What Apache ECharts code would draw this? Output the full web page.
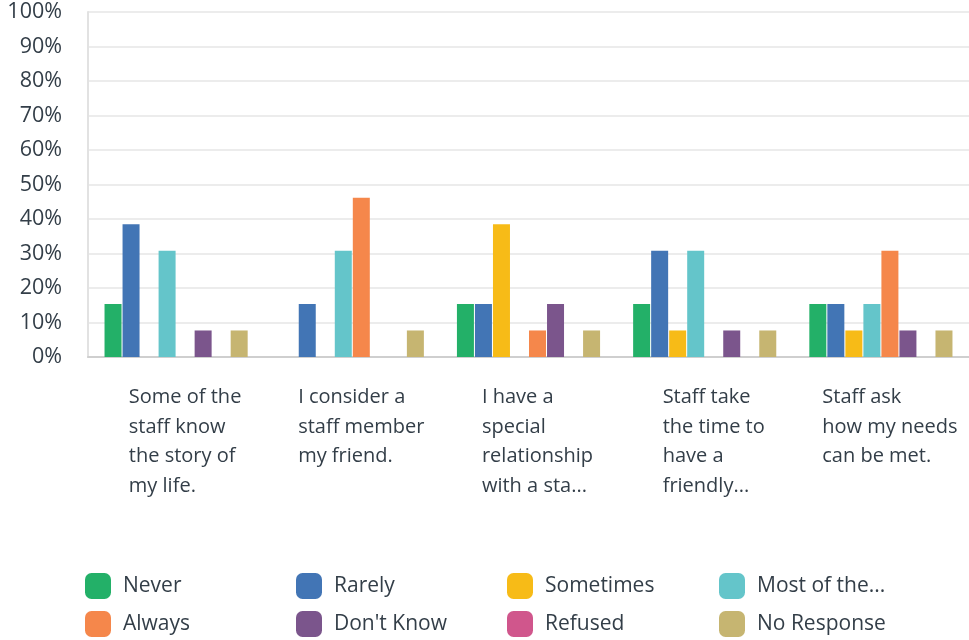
<!DOCTYPE html>
<html>
<head>
<meta charset="utf-8">
<script src="https://cdn.jsdelivr.net/npm/echarts@6/dist/echarts.min.js"></script>
<style>
html,body{margin:0;padding:0;background:#fff;}
#chart{width:969px;height:640px;}
</style>
</head>
<body>
<div id="chart"></div>
<script>
var categories = [
  "Some of the\nstaff know\nthe story of\nmy life.",
  "I consider a\nstaff member\nmy friend.",
  "I have a\nspecial\nrelationship\nwith a sta...",
  "Staff take\nthe time to\nhave a\nfriendly...",
  "Staff ask\nhow my needs\ncan be met."
];
var seriesNames = ["Never", "Rarely", "Sometimes", "Most of the...", "Always", "Don't Know", "Refused", "No Response"];
var never      = [15.38, 0,     15.38, 15.38, 15.38];
var rarely     = [38.46, 15.38, 15.38, 30.77, 15.38];
var sometimes  = [0,     0,     38.46, 7.69,  7.69];
var mostOfThe  = [30.77, 30.77, 0,     30.77, 15.38];
var always     = [0,     46.15, 7.69,  0,     30.77];
var dontKnow   = [7.69,  0,     15.38, 7.69,  7.69];
var refused    = [0,     0,     0,     0,     0];
var noResponse = [7.69,  7.69,  7.69,  7.69,  7.69];
var yTickValues = [0, 10, 20, 30, 40, 50, 60, 70, 80, 90, 100];

var colors = ["#23b068", "#4275b5", "#f7bb17", "#64c5ca", "#f5874b", "#7b558c", "#d0568c", "#c6b571"];
var allData = [never, rarely, sometimes, mostOfThe, always, dontKnow, refused, noResponse];
var textColor = "#333e48";
var fontFam = "'Open Sans', sans-serif";

var chart = echarts.init(document.getElementById('chart'), null, {renderer: 'canvas'});

var legendLefts = [85, 296, 507, 719];
var legendTops = [573, 611];
var legends = seriesNames.map(function (n, i) {
  return {
    data: [n],
    left: legendLefts[i % 4],
    top: legendTops[Math.floor(i / 4)],
    padding: 0,
    icon: 'roundRect',
    itemWidth: 26,
    itemHeight: 26,
    selectedMode: false,
    textStyle: {fontSize: 21, color: textColor, fontFamily: fontFam, padding: [0, 0, 0, 7]}
  };
});

var option = {
  animation: false,
  color: colors,
  grid: {left: 88, right: 0, top: 12, bottom: 283, containLabel: false},
  legend: legends,
  xAxis: {
    type: 'category',
    data: categories,
    axisLine: {show: true, lineStyle: {color: '#cfcfcf', width: 2}},
    axisTick: {show: false},
    splitLine: {show: false},
    axisLabel: {
      interval: 0,
      margin: 26,
      padding: [0, 0, 0, 18],
      formatter: function (v) {
        return v.split('\n').map(function (l) { return '{a|' + l + '}'; }).join('\n');
      },
      rich: {
        a: {align: 'left', fontSize: 20, lineHeight: 29.5, color: textColor, fontFamily: fontFam}
      }
    }
  },
  yAxis: {
    type: 'value',
    min: yTickValues[0],
    max: yTickValues[yTickValues.length - 1],
    interval: yTickValues[1] - yTickValues[0],
    axisLine: {show: true, lineStyle: {color: '#e2e2e2', width: 2}},
    axisTick: {show: false},
    splitLine: {show: true, lineStyle: {color: '#ececec', width: 2}},
    axisLabel: {
      formatter: '{value}%',
      fontSize: 21.5,
      color: textColor,
      fontFamily: fontFam,
      margin: 26
    }
  },
  series: seriesNames.map(function (n, i) {
    return {
      name: n,
      type: 'bar',
      data: allData[i],
      barWidth: 17,
      barGap: '6%',
      itemStyle: {color: colors[i]}
    };
  })
};
chart.setOption(option);
</script>
</body>
</html>
